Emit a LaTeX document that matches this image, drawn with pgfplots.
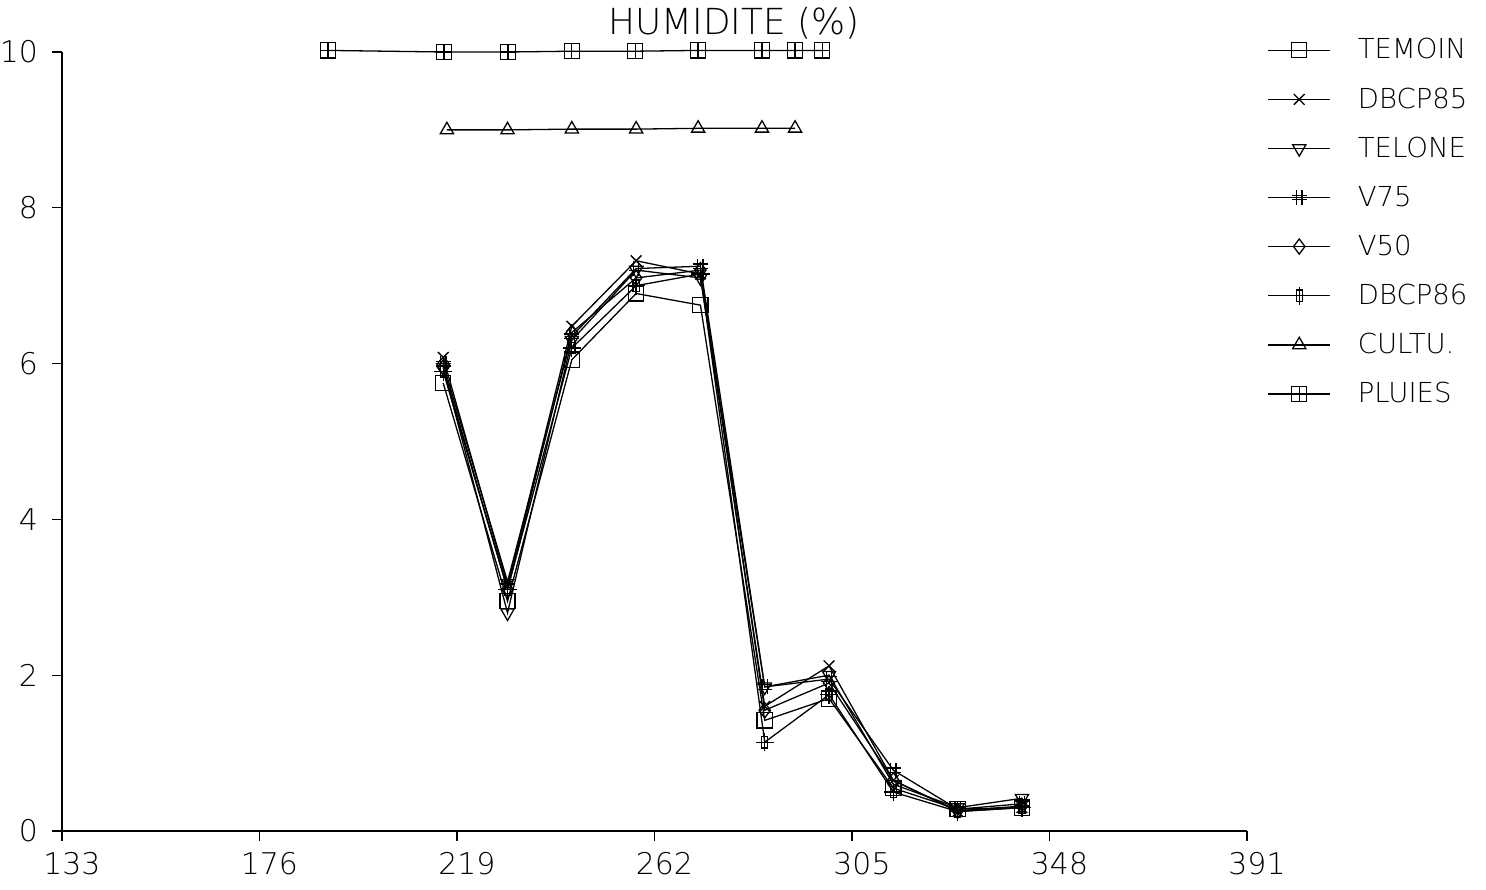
\documentclass[border=0pt]{standalone}
\usepackage{fontspec}
\setmainfont{DejaVu Sans ExtraLight}
\usepackage{pgfplots}
\pgfplotsset{compat=1.18}

% plotter-style marks
\pgfdeclareplotmark{hash}{%
  \pgfpathmoveto{\pgfqpoint{-0.35\pgfplotmarksize}{-\pgfplotmarksize}}%
  \pgfpathlineto{\pgfqpoint{-0.35\pgfplotmarksize}{\pgfplotmarksize}}%
  \pgfpathmoveto{\pgfqpoint{0.35\pgfplotmarksize}{-\pgfplotmarksize}}%
  \pgfpathlineto{\pgfqpoint{0.35\pgfplotmarksize}{\pgfplotmarksize}}%
  \pgfpathmoveto{\pgfqpoint{-\pgfplotmarksize}{-0.3\pgfplotmarksize}}%
  \pgfpathlineto{\pgfqpoint{\pgfplotmarksize}{-0.3\pgfplotmarksize}}%
  \pgfpathmoveto{\pgfqpoint{-\pgfplotmarksize}{0.3\pgfplotmarksize}}%
  \pgfpathlineto{\pgfqpoint{\pgfplotmarksize}{0.3\pgfplotmarksize}}%
  \pgfusepathqstroke}
\pgfdeclareplotmark{boxplus}{%
  \pgfpathrectangle{\pgfqpoint{-\pgfplotmarksize}{-\pgfplotmarksize}}{\pgfqpoint{2\pgfplotmarksize}{2\pgfplotmarksize}}%
  \pgfpathmoveto{\pgfqpoint{0pt}{-\pgfplotmarksize}}%
  \pgfpathlineto{\pgfqpoint{0pt}{\pgfplotmarksize}}%
  \pgfpathmoveto{\pgfqpoint{-\pgfplotmarksize}{0pt}}%
  \pgfpathlineto{\pgfqpoint{\pgfplotmarksize}{0pt}}%
  \pgfusepathqstroke}
\pgfdeclareplotmark{barplus}{%
  \pgfpathrectangle{\pgfqpoint{-0.4\pgfplotmarksize}{-0.75\pgfplotmarksize}}{\pgfqpoint{0.8\pgfplotmarksize}{1.5\pgfplotmarksize}}%
  \pgfpathmoveto{\pgfqpoint{0pt}{-1.2\pgfplotmarksize}}%
  \pgfpathlineto{\pgfqpoint{0pt}{1.2\pgfplotmarksize}}%
  \pgfpathmoveto{\pgfqpoint{-1.2\pgfplotmarksize}{0pt}}%
  \pgfpathlineto{\pgfqpoint{1.2\pgfplotmarksize}{0pt}}%
  \pgfusepathqstroke}

\begin{document}
\begin{tikzpicture}
\useasboundingbox (0,0) rectangle (743bp,445bp);
\begin{axis}[
  at={(31bp,29.5bp)}, anchor=south west,
  scale only axis, width=592.5bp, height=389.5bp,
  xmin=133, xmax=391, ymin=0, ymax=10,
  axis lines*=left,
  axis line style={line width=0.6pt},
  tick align=outside, major tick length=5bp,
  tick style={line width=0.6pt, black},
  xtick={133,176,219,262,305,348,391},
  ytick={0,2,4,6,8,10},
  /pgf/number format/assume math mode=true,
  ticklabel style={font=\fontsize{15}{17}\selectfont},
  xticklabel style={yshift=-2bp, xshift=5bp},
  yticklabel style={xshift=-3.5bp},
  clip=false,
  every axis plot/.append style={black, line width=0.65pt, mark size=3.8bp,
    mark options={solid, line width=0.65pt}},
  legend image code/.code={%
    \draw[mark repeat=2, mark phase=2, #1] plot coordinates {(0bp,0bp) (15.5bp,0bp) (31bp,0bp)};},
  legend style={draw=none, fill=none, at={(1.012,1.028)}, anchor=north west,
    font=\fontsize{13.8}{15}\selectfont, row sep=8.9bp,
    nodes={inner xsep=13.5bp}},
  legend cell align=left,
]
\addplot[mark=square] coordinates {
  (216,5.75) (230,2.95) (244,6.05) (258,6.90) (272,6.75)
  (286,1.42) (300,1.70) (314,0.55) (328,0.28) (342,0.30)};
\addlegendentry{TEMOIN}
\addplot[mark=x] coordinates {
  (216,6.08) (230,3.15) (244,6.48) (258,7.32) (272,7.15)
  (286,1.60) (300,2.12) (314,0.65) (328,0.25) (342,0.30)};
\addlegendentry{DBCP85}
\addplot[mark=triangle, mark options={solid, rotate=180, line width=0.65pt}] coordinates {
  (216,5.95) (230,2.80) (244,6.30) (258,7.20) (272,7.10)
  (286,1.85) (300,2.00) (314,0.60) (328,0.30) (342,0.42)};
\addlegendentry{TELONE}
\addplot[mark=hash] coordinates {
  (216,6.00) (230,3.20) (244,6.35) (258,7.22) (272,7.25)
  (286,1.85) (300,1.95) (314,0.78) (328,0.28) (342,0.35)};
\addlegendentry{V75}
\addplot[mark=diamond] coordinates {
  (216,5.95) (230,3.10) (244,6.40) (258,7.10) (272,7.20)
  (286,1.55) (300,1.90) (314,0.65) (328,0.26) (342,0.32)};
\addlegendentry{V50}
\addplot[mark=barplus] coordinates {
  (216,5.90) (230,3.10) (244,6.20) (258,7.00) (272,7.15)
  (286,1.14) (300,1.75) (314,0.50) (328,0.25) (342,0.30)};
\addlegendentry{DBCP86}
\addplot[mark=triangle] coordinates {
  (216.8,9.00) (230,9.00) (244,9.01) (258,9.01) (271.5,9.02) (285.4,9.02) (292.6,9.02)};
\addlegendentry{CULTU.}
\addplot[mark=boxplus] coordinates {
  (190.9,10.02) (216.2,10.00) (230.1,10.00) (244,10.01) (257.8,10.01)
  (271.5,10.02) (285.4,10.02) (292.6,10.02) (298.5,10.02)};
\addlegendentry{PLUIES}
\node[font=\fontsize{18}{20}\selectfont, anchor=base] at (rel axis cs:0.567,1) [yshift=8.5bp] {HUMIDITE (\%)};
\end{axis}
\end{tikzpicture}
\end{document}
